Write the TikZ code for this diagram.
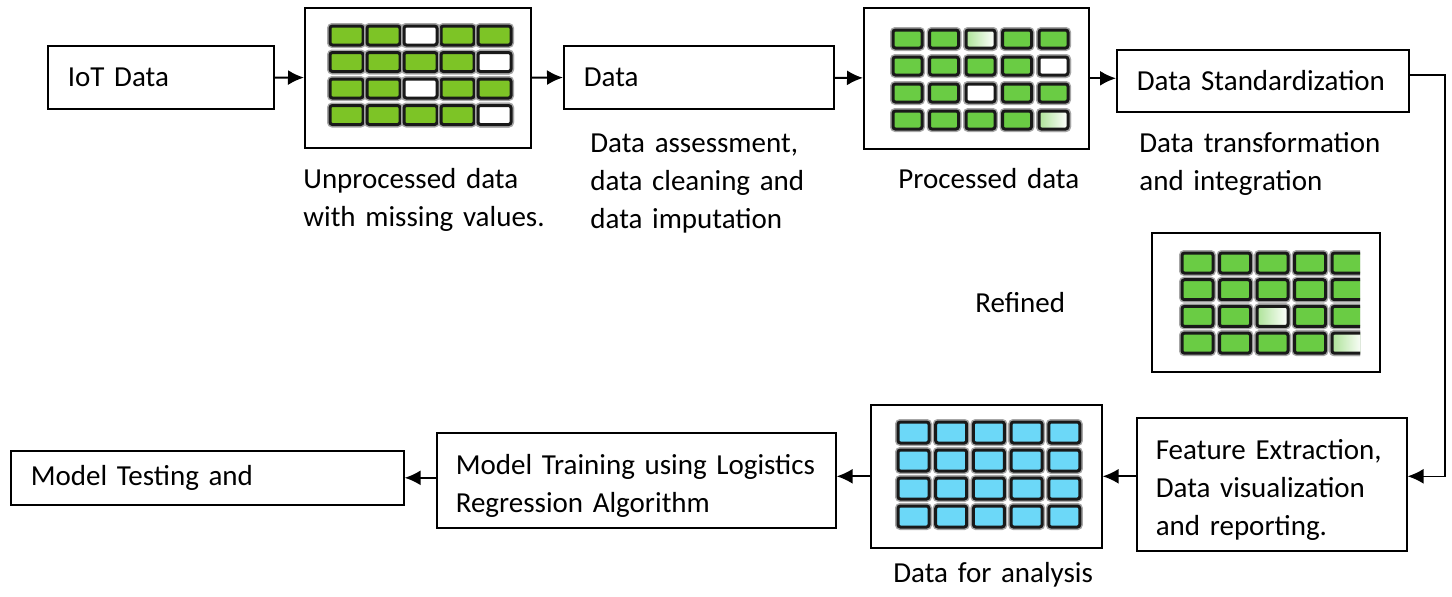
\documentclass[tikz,border=0pt]{standalone}
\usepackage{fontspec}
\setmainfont{Carlito}
\usetikzlibrary{arrows.meta}

\definecolor{rawgreen}{RGB}{125,196,38}
\definecolor{cleangreen}{RGB}{106,204,68}
\definecolor{cellblue}{RGB}{108,216,248}

\newcommand{\pushdown}{\rule{0pt}{16pt}}

\tikzset{
  box/.style={draw, line width=0.8pt, anchor=north west, align=left, inner xsep=10pt, inner ysep=0pt},
  gridbox/.style={draw, line width=0.8pt, anchor=north west, inner sep=0pt},
  caption/.style={anchor=base west, align=left, inner sep=0pt, text width=130pt},
  cell/.style={draw=black!90, line width=1.5pt, rounded corners=1.2pt, preaction={draw=black!35, line width=3pt}},
  arr/.style={-{Latex[length=8pt,width=7.5pt]}, line width=1pt},
}

\begin{document}
\begin{tikzpicture}[x=0.5pt,y=-0.5pt,font=\fontsize{14.5}{19}\selectfont]

\useasboundingbox (0,0) rectangle (1452,596);

% top row
\node[box, text width=93pt, minimum height=31.5pt] (iot) at (47,45) {IoT Data};
\node[gridbox, minimum width=113pt, minimum height=70pt] (raw) at (304,7) {};
\node[box, text width=115pt, minimum height=31.5pt] (clean) at (563,45) {Data};
\node[gridbox, minimum width=112.5pt, minimum height=70.5pt] (proc) at (863,7) {};
\node[box, text width=126pt, minimum height=31pt] (std) at (1116,49) {Data Standardization};

% right side and bottom row
\node[gridbox, minimum width=114pt, minimum height=69.5pt] (ref) at (1151,232) {};
\node[box, text width=116pt, inner xsep=9.5pt, minimum height=66.5pt] (feat) at (1136,417) {\pushdown Feature Extraction,\\Data visualization\\and reporting.};
\node[gridbox, minimum width=115.5pt, minimum height=71.5pt] (anal) at (870,404) {};
\node[box, text width=180.5pt, inner xsep=9.5pt, minimum height=47.5pt] (train) at (436,432) {\pushdown Model Training using Logistics\\Regression Algorithm};
\node[box, text width=176.5pt, minimum height=27pt] (test) at (10,450) {Model Testing and};

% captions
\node[caption] (rawcap) at (303,188) {Unprocessed data\\with missing values.};
\node[caption] (cleancap) at (590,152) {Data assessment,\\data cleaning and\\data imputation};
\node[caption] (proccap) at (898,188) {Processed data};
\node[caption] (stdcap) at (1139,152) {Data transformation\\and integration};
\node[caption] (refcap) at (975,312) {Refined};
\node[caption] (analcap) at (893,582) {Data for analysis};

% unprocessed data
\foreach \r in {0,...,3}
  \foreach \c in {0,...,4}
    \draw[cell, fill=rawgreen] ({330+37*\c},{26+26.5*\r}) rectangle ++(33,19);
\foreach \c/\r in {2/0,4/1,2/2,4/3}
  \draw[cell, fill=white] ({330+37*\c},{26+26.5*\r}) rectangle ++(33,19);

% processed data
\foreach \r in {0,...,3}
  \foreach \c in {0,...,4}
    \draw[cell, fill=cleangreen] ({893+36.5*\c},{30+27*\r}) rectangle ++(29,18);
\foreach \c/\r in {4/1,2/2}
  \draw[cell, fill=white] ({893+36.5*\c},{30+27*\r}) rectangle ++(29,18);
\foreach \c/\r in {2/0,4/3}
  \draw[cell, left color=cleangreen!55, right color=white] ({893+36.5*\c},{30+27*\r}) rectangle ++(29,18);

% refined data, last column cut off
\begin{scope}
\clip (1151,232) rectangle (1360,371);
\foreach \r in {0,...,3}
  \foreach \c in {0,...,4}
    \draw[cell, fill=cleangreen] ({1182+37.5*\c},{253+26.7*\r}) rectangle ++(31,20);
\foreach \c/\r in {2/2,4/3}
  \draw[cell, left color=cleangreen!55, right color=white] ({1182+37.5*\c},{253+26.7*\r}) rectangle ++(31,20);
\end{scope}

% data for analysis
\foreach \r in {0,...,3}
  \foreach \c in {0,...,4}
    \draw[cell, fill=cellblue] ({898+37.7*\c},{422+28*\r}) rectangle ++(31,21);

% connectors
\draw[arr] (iot) -- (raw);
\draw[arr] (raw) -- (clean);
\draw[arr] (clean) -- (proc);
\draw[arr] (proc.east) -- (proc.east -| std.west);
\coordinate (bend) at (1445,0);
\draw[arr, line width=0.8pt] ([yshift=3pt]std.east) -| (bend |- anal.east) -- (anal.east -| feat.east);
\draw[arr] (anal.east -| feat.west) -- (anal.east);
\draw[arr] (anal.west) -- (anal.west -| train.east);
\draw[arr] (train.west |- test.east) -- (test.east);

\end{tikzpicture}
\end{document}
